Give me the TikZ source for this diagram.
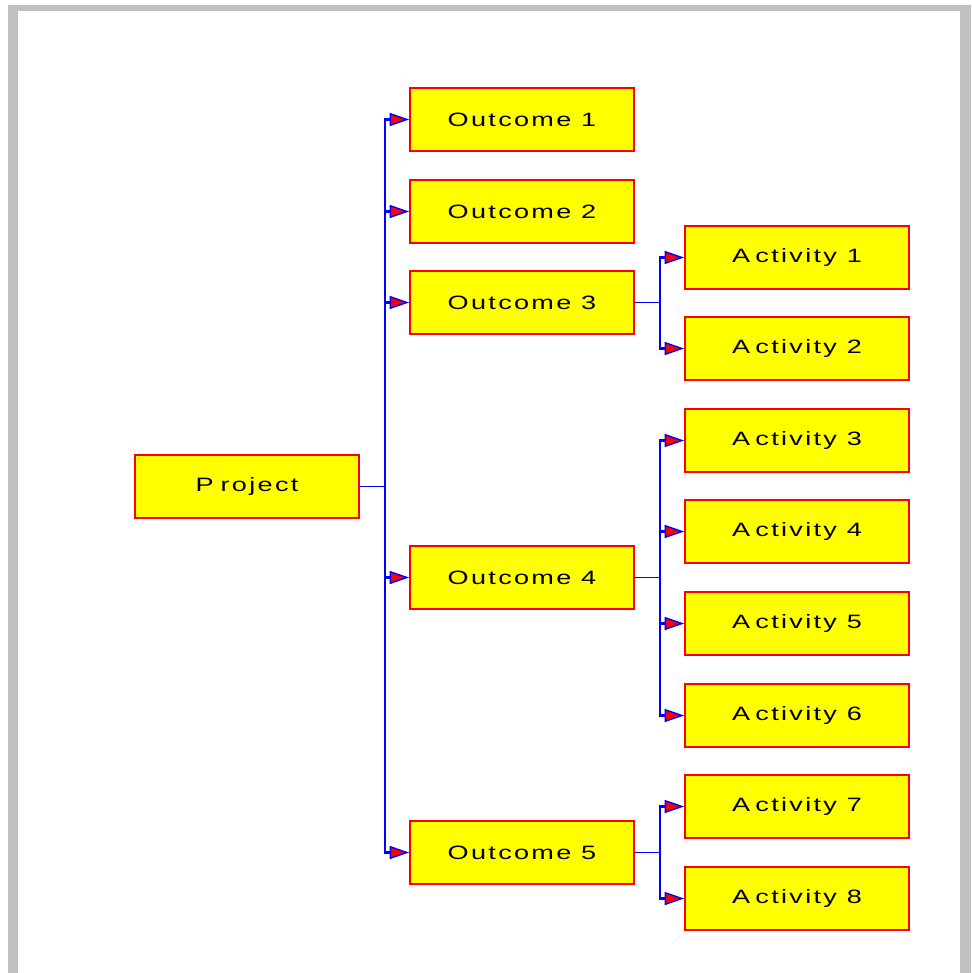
\documentclass[tikz,border=0pt]{standalone}
\usepackage{fontspec}
\setmainfont{Liberation Sans}[FakeStretch=1.4, LetterSpace=12]
\usepackage{tikz}
\usetikzlibrary{arrows.meta}
\definecolor{framegray}{RGB}{192,192,192}
\definecolor{boxfill}{RGB}{255,255,0}
\definecolor{boxline}{RGB}{255,0,0}
\definecolor{linkline}{RGB}{0,0,255}

\tikzset{
  box/.style={draw=boxline, fill=boxfill, line width=1.1pt, minimum width=4.48cm, minimum height=1.26cm,
    inner sep=0pt, font=\fontsize{11}{12}\selectfont},
  link/.style={draw=linkline, line width=1.2pt},
  stub/.style={draw=linkline, line width=0.7pt},
  tolink/.style={link, -{Triangle[length=11pt, width=7.4pt, fill=boxline, line width=0.8pt]}}
}

\begin{document}
\begin{tikzpicture}[x=0.02cm, y=-0.02cm]
\useasboundingbox (0,0) rectangle (971,973);
% frame
\fill[framegray] (8,5) rectangle (971,973);
\fill[white] (18,11) rectangle (960,973);

% root
\node[box] (proj) at (247,486.5) {P\kern4pt roject};
% outcomes
\node[box] (out1) at (522,119.5) {Outcome 1};
\node[box] (out2) at (522,211.5) {Outcome 2};
\node[box] (out3) at (522,302.5) {Outcome 3};
\node[box] (out4) at (522,577.5) {Outcome 4};
\node[box] (out5) at (522,852.5) {Outcome 5};
% activities
\node[box] (act1) at (797,257.5) {A\kern3pt ctivity 1};
\node[box] (act2) at (797,348.5) {A\kern3pt ctivity 2};
\node[box] (act3) at (797,440.5) {A\kern3pt ctivity 3};
\node[box] (act4) at (797,531.5) {A\kern3pt ctivity 4};
\node[box] (act5) at (797,623.5) {A\kern3pt ctivity 5};
\node[box] (act6) at (797,715.5) {A\kern3pt ctivity 6};
\node[box] (act7) at (797,806.5) {A\kern3pt ctivity 7};
\node[box] (act8) at (797,898.5) {A\kern3pt ctivity 8};

% connectors
\draw[stub] (proj.east) -- +(25,0) coordinate (j0);
\draw[stub] (out3.east) -- +(25,0) coordinate (j3);
\draw[stub] (out4.east) -- +(25,0) coordinate (j4);
\draw[stub] (out5.east) -- +(25,0) coordinate (j5);
\foreach \o in {out1,out2,out3,out4,out5}
  \draw[tolink] (j0) |- (\o.west);
\foreach \a in {act1,act2}
  \draw[tolink] (j3) |- (\a.west);
\foreach \a in {act3,act4,act5,act6}
  \draw[tolink] (j4) |- (\a.west);
\foreach \a in {act7,act8}
  \draw[tolink] (j5) |- (\a.west);
\end{tikzpicture}
\end{document}
